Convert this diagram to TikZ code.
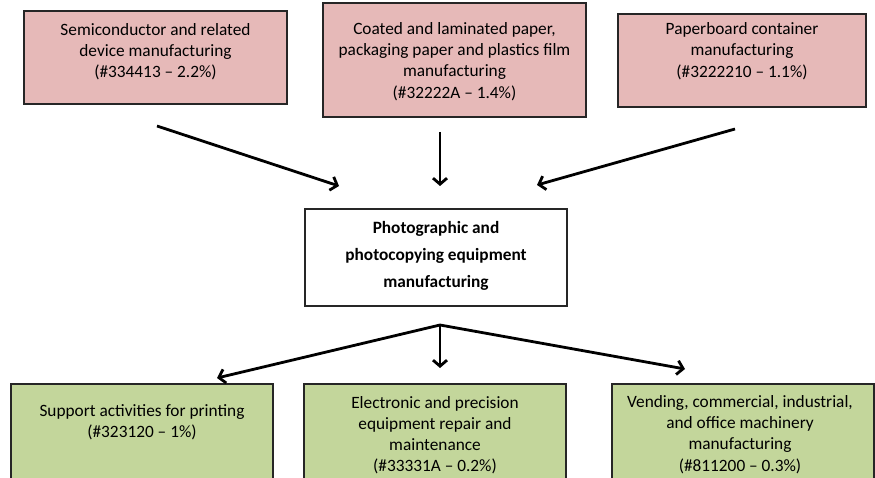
\documentclass[tikz,border=0pt]{standalone}
\usepackage{fontspec}
\setmainfont{Carlito}
\usetikzlibrary{arrows.meta}
\definecolor{pinkfill}{HTML}{E6B9B8}
\definecolor{greenfill}{HTML}{C3D69B}
\definecolor{edgegray}{HTML}{262626}
\begin{document}
\begin{tikzpicture}[x=1pt,y=-1pt,
  box/.style={draw=edgegray, line width=1.3pt, rectangle, inner sep=0pt},
  pinkbox/.style={box, fill=pinkfill, minimum width=263pt},
  greenbox/.style={box, fill=greenfill, minimum width=262pt, minimum height=116pt},
  txt/.style={align=center, font=\fontsize{17.3}{21.2}\selectfont, inner sep=0pt},
  boldtxt/.style={align=center, font=\fontsize{17.3}{27}\selectfont\bfseries, inner sep=0pt},
  arr/.style={line width=2.8pt, -{Straight Barb[length=6pt,width=14pt]}}]
\clip (0,0) rectangle (875,478);
\fill[white] (0,0) rectangle (875,478);

% top boxes
\node[pinkbox, minimum height=93pt] (b1) at (155.5,57.5) {};
\node[txt] (t1) at (155.5,51.5) {Semiconductor and related\\device manufacturing\\(\#334413 – 2.2\%)};
\node[pinkbox, minimum height=114pt] (b2) at (454.5,60) {};
\node[txt] (t2) at (454.5,61.5) {Coated and laminated paper,\\packaging paper and plastics film\\manufacturing\\(\#32222A – 1.4\%)};
\node[pinkbox, minimum width=248pt, minimum height=93pt] (b3) at (742,60.5) {};
\node[txt] (t3) at (742,51) {Paperboard container\\manufacturing\\(\#3222210 – 1.1\%)};

% centre box
\node[box, fill=white, minimum width=262pt, minimum height=97pt] (c) at (436,257.5) {};
\node[boldtxt] (tc) at (436,256) {Photographic and\\photocopying equipment\\manufacturing};

% bottom boxes
\node[greenbox] (g1) at (142,442) {};
\node[txt] (tg1) at (142,422.5) {Support activities for printing\\(\#323120 – 1\%)};
\node[greenbox] (g2) at (435,442) {};
\node[txt] (tg2) at (435,435) {Electronic and precision\\equipment repair and\\maintenance\\(\#33331A – 0.2\%)};
\node[greenbox] (g3) at (743,442) {};
\node[txt] (tg3) at (740,434.5) {Vending, commercial, industrial,\\and office machinery\\manufacturing\\(\#811200 – 0.3\%)};

% arrow end points
\coordinate (s1) at (157,126);
\coordinate (e1) at (339,186);
\coordinate (s2) at (440,132);
\coordinate (e2) at (440,186);
\coordinate (s3) at (735,129);
\coordinate (e3) at (537,185);
\coordinate (o) at (440,325);
\coordinate (f1) at (217,378);
\coordinate (f2) at (440,368);
\coordinate (f3) at (685,369);

\draw[arr] (s1) -- (e1);
\draw[arr] (s2) -- (e2);
\draw[arr] (s3) -- (e3);
\draw[arr] (o) -- (f1);
\draw[arr] (o) -- (f2);
\draw[arr] (o) -- (f3);
\end{tikzpicture}
\end{document}
